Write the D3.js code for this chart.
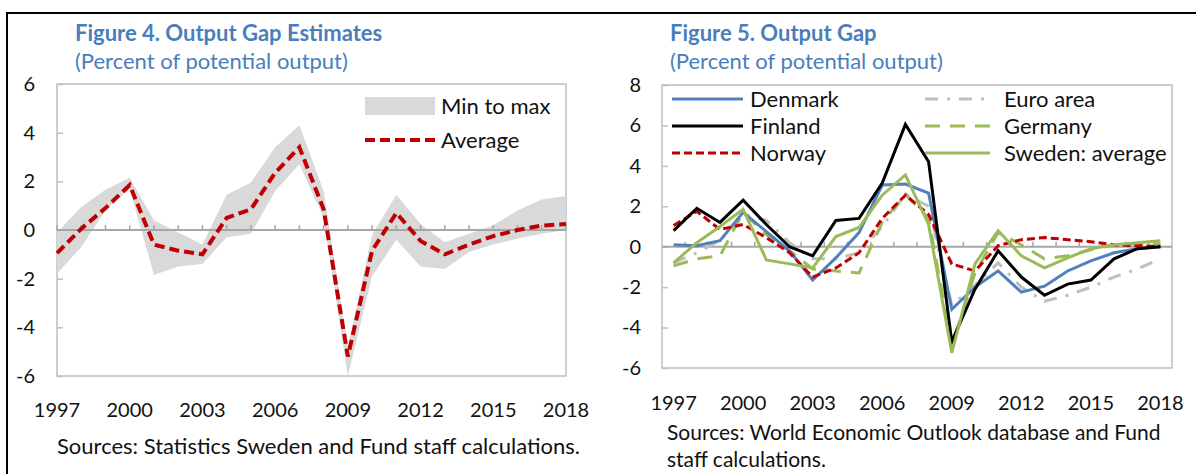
<!DOCTYPE html>
<html>
  <head>
    <script src="https://cdn.jsdelivr.net/npm/d3@7/dist/d3.min.js"></script>
    <style>
      body { margin: 0; background: #fff; }
      svg text { font-family: Lato, 'Open Sans', sans-serif; fill: #111; }
    </style>
  </head>
  <body>
    <div id="chart"></div>

    <script>
      // ========= Data ========= //
      const years = d3.range(1997, 2019);
      const xTickYears = [1997, 2000, 2003, 2006, 2009, 2012, 2015, 2018];

      // Figure 4
      const gapMin = [-1.8, -0.7, 0.8, 1.7, -1.85, -1.5, -1.4, -0.3, -0.15, 1.6, 2.7, 0.5, -6.0, -1.9, -0.4, -1.5, -1.6, -0.9, -0.6, -0.35, -0.15, 0.0];
      const gapMax = [-0.1, 0.95, 1.65, 2.15, 0.4, -0.1, -0.6, 1.45, 1.95, 3.4, 4.3, 1.6, -4.8, -0.2, 1.45, 0.25, -0.5, -0.15, 0.2, 0.8, 1.25, 1.4];
      const gapAvg = [-0.95, 0.05, 0.9, 1.85, -0.6, -0.85, -1.0, 0.5, 0.85, 2.35, 3.4, 0.85, -5.2, -0.85, 0.7, -0.45, -1.0, -0.6, -0.25, 0.0, 0.18, 0.25];
      const leftTicks = [-6, -4, -2, 0, 2, 4, 6];

      // Figure 5
      const denmark = [0.1, 0.05, 0.3, 1.7, 0.75, -0.2, -1.65, -0.55, 0.7, 3.05, 3.1, 2.65, -3.1, -2.0, -1.2, -2.25, -1.95, -1.2, -0.7, -0.3, -0.1, 0.0];
      const finland = [0.8, 1.9, 1.2, 2.3, 1.1, 0.0, -0.45, 1.3, 1.4, 3.15, 6.05, 4.2, -4.7, -2.1, -0.2, -1.5, -2.4, -1.85, -1.65, -0.6, -0.1, 0.0];
      const norway = [1.05, 1.75, 0.85, 1.1, 0.45, -0.3, -1.5, -1.05, -0.3, 1.4, 2.55, 1.6, -0.85, -1.2, 0.05, 0.35, 0.45, 0.35, 0.25, 0.1, 0.05, 0.02];
      const euroArea = [-0.8, -0.3, 0.3, 1.6, 1.3, 0.2, -0.6, -0.6, -0.3, 1.0, 2.6, 2.0, -2.9, -1.9, -0.8, -2.0, -2.7, -2.4, -2.0, -1.5, -1.1, -0.6];
      const germany = [-0.95, -0.6, -0.45, 1.7, 0.6, -0.2, -1.1, -1.2, -1.3, 1.2, 2.6, 1.4, -4.9, -1.3, 0.7, 0.1, -0.6, -0.45, -0.15, 0.1, 0.15, 0.15];
      const sweden = [-0.8, 0.2, 1.0, 1.85, -0.65, -0.85, -1.05, 0.5, 0.95, 2.55, 3.55, 1.1, -5.25, -0.85, 0.8, -0.45, -1.05, -0.55, -0.1, 0.1, 0.2, 0.3];
      const rightTicks = [-6, -4, -2, 0, 2, 4, 6, 8];

      const blueTitle = '#4a7ebb';
      const axisGrey = '#bfbfbf';

      // ========= SVG ========= //
      const width = 1196;
      const height = 474;

      const svg = d3.select('#chart').append('svg')
        .attr('width', width)
        .attr('height', height);

      // frame
      svg.append('line')
        .attr('x1', 6).attr('x2', width).attr('y1', 13).attr('y2', 13)
        .attr('stroke', '#000').attr('stroke-width', 2);
      svg.append('line')
        .attr('x1', 7).attr('x2', 7).attr('y1', 12).attr('y2', height)
        .attr('stroke', '#000').attr('stroke-width', 2);

      function titles(x, title) {
        svg.append('text')
          .attr('x', x).attr('y', 41)
          .attr('font-size', 22).attr('font-weight', 700)
          .style('fill', blueTitle)
          .text(title);
        svg.append('text')
          .attr('x', x).attr('y', 69)
          .attr('font-size', 22)
          .style('fill', blueTitle)
          .text('(Percent of potential output)');
      }

      function frame(box, y, labelX) {
        svg.append('rect')
          .attr('x', box.x0).attr('y', box.y0)
          .attr('width', box.x1 - box.x0).attr('height', box.y1 - box.y0)
          .attr('fill', 'none')
          .attr('stroke', axisGrey).attr('stroke-width', 1.5);

        const yAxis = svg.append('g')
          .attr('transform', `translate(${box.x0},0)`)
          .call(d3.axisRight(y).tickValues(box.ticks).tickSize(6).tickFormat(d3.format('d')));
        yAxis.select('.domain').remove();
        yAxis.selectAll('line').attr('stroke', axisGrey).attr('stroke-width', 1.5);
        yAxis.selectAll('text')
          .attr('x', labelX - box.x0).attr('text-anchor', 'end')
          .attr('font-size', 20).attr('font-family', null)
          .text(d => d < 0 ? '-' + Math.abs(d) : d);
      }

      // ========= Figure 4 ========= //
      titles(75, 'Figure 4. Output Gap Estimates');

      const boxL = { x0: 57, x1: 566, y0: 84, y1: 376, ticks: leftTicks };
      const xL = d3.scalePoint().domain(years).range([boxL.x0, boxL.x1]);
      const yL = d3.scaleLinear().domain([-6, 6]).range([boxL.y1, boxL.y0]);

      frame(boxL, yL, 35);

      const band = years.map((yr, i) => ({ yr, lo: gapMin[i], hi: gapMax[i] }));
      svg.append('path')
        .datum(band)
        .attr('fill', '#d9d9d9')
        .attr('d', d3.area().x(d => xL(d.yr)).y0(d => yL(d.lo)).y1(d => yL(d.hi)));

      // zero axis with year ticks
      svg.append('line')
        .attr('x1', boxL.x0).attr('x2', boxL.x1)
        .attr('y1', yL(0)).attr('y2', yL(0))
        .attr('stroke', '#a6a6a6').attr('stroke-width', 2);
      svg.append('g').selectAll('line')
        .data(years)
        .join('line')
        .attr('x1', d => xL(d)).attr('x2', d => xL(d))
        .attr('y1', yL(0)).attr('y2', yL(0) - 5)
        .attr('stroke', '#a6a6a6').attr('stroke-width', 1.5);

      svg.append('path')
        .datum(gapAvg)
        .attr('fill', 'none')
        .attr('stroke', '#c00000').attr('stroke-width', 4)
        .attr('stroke-dasharray', '10,5')
        .attr('d', d3.line().x((d, i) => xL(years[i])).y(d => yL(d)));

      svg.append('g').selectAll('text')
        .data(xTickYears)
        .join('text')
        .attr('x', d => xL(d)).attr('y', 417)
        .attr('text-anchor', 'middle').attr('font-size', 20)
        .text(d => d);

      svg.append('text')
        .attr('x', 57).attr('y', 454).attr('font-size', 22)
        .text('Sources: Statistics Sweden and Fund staff calculations.');

      // legend
      svg.append('rect')
        .attr('x', 365).attr('y', 97).attr('width', 70).attr('height', 18)
        .attr('fill', '#d9d9d9');
      svg.append('text').attr('x', 441).attr('y', 114).attr('font-size', 22).text('Min to max');
      svg.append('line')
        .attr('x1', 365).attr('x2', 435).attr('y1', 140).attr('y2', 140)
        .attr('stroke', '#c00000').attr('stroke-width', 4).attr('stroke-dasharray', '10,5');
      svg.append('text').attr('x', 441).attr('y', 148).attr('font-size', 22).text('Average');

      // ========= Figure 5 ========= //
      titles(670, 'Figure 5. Output Gap');

      const boxR = { x0: 662, x1: 1172, y0: 85, y1: 368, ticks: rightTicks };
      const xR = d3.scaleBand().domain(years).range([boxR.x0, boxR.x1]);
      const xRc = d => xR(d) + xR.bandwidth() / 2;
      const yR = d3.scaleLinear().domain([-6, 8]).range([boxR.y1, boxR.y0]);

      frame(boxR, yR, 641);

      svg.append('line')
        .attr('x1', boxR.x0).attr('x2', boxR.x1)
        .attr('y1', yR(0)).attr('y2', yR(0))
        .attr('stroke', '#a6a6a6').attr('stroke-width', 2);
      svg.append('g').selectAll('line')
        .data(years.slice(1))
        .join('line')
        .attr('x1', d => xR(d)).attr('x2', d => xR(d))
        .attr('y1', yR(0)).attr('y2', yR(0) - 5)
        .attr('stroke', '#a6a6a6').attr('stroke-width', 1.5);

      const series = [
        { name: 'Euro area', values: euroArea, color: '#bfbfbf', dash: '13,9,3,9', col: 1, row: 0 },
        { name: 'Germany', values: germany, color: '#9bbb59', dash: '15,10', col: 1, row: 1 },
        { name: 'Denmark', values: denmark, color: '#4f81bd', dash: null, col: 0, row: 0 },
        { name: 'Norway', values: norway, color: '#c00000', dash: '8,4', col: 0, row: 2 },
        { name: 'Finland', values: finland, color: '#000000', dash: null, col: 0, row: 1 },
        { name: 'Sweden: average', values: sweden, color: '#9bbb59', dash: null, col: 1, row: 2 }
      ];

      const lineR = d3.line().x((d, i) => xRc(years[i])).y(d => yR(d));

      svg.append('g').selectAll('path')
        .data(series)
        .join('path')
        .attr('fill', 'none')
        .attr('stroke', d => d.color)
        .attr('stroke-width', 3)
        .attr('stroke-dasharray', d => d.dash)
        .attr('d', d => lineR(d.values));

      svg.append('g').selectAll('text')
        .data(xTickYears)
        .join('text')
        .attr('x', d => xRc(d)).attr('y', 410)
        .attr('text-anchor', 'middle').attr('font-size', 20)
        .text(d => d);

      svg.append('text')
        .attr('x', 667).attr('y', 440).attr('font-size', 21)
        .text('Sources: World Economic Outlook database and Fund');
      svg.append('text')
        .attr('x', 667).attr('y', 467).attr('font-size', 21)
        .text('staff calculations.');

      // legend
      const legendCols = [{ x1: 672, x2: 743, tx: 750 }, { x1: 925, x2: 990, tx: 1004 }];
      const legendRows = [99, 126, 153];
      const legend = svg.append('g').selectAll('g')
        .data(series)
        .join('g');
      legend.append('line')
        .attr('x1', d => legendCols[d.col].x1).attr('x2', d => legendCols[d.col].x2)
        .attr('y1', d => legendRows[d.row]).attr('y2', d => legendRows[d.row])
        .attr('stroke', d => d.color).attr('stroke-width', 3)
        .attr('stroke-dasharray', d => d.dash);
      legend.append('text')
        .attr('x', d => legendCols[d.col].tx).attr('y', d => legendRows[d.row] + 8)
        .attr('font-size', 22)
        .text(d => d.name);
    </script>
  </body>
</html>
